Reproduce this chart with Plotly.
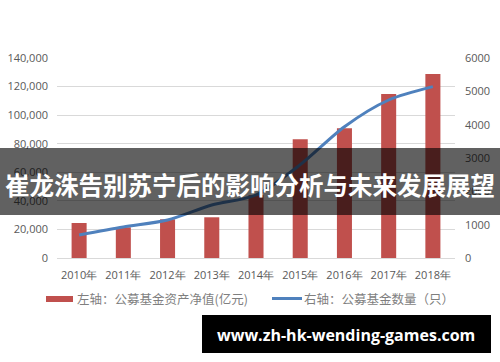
import plotly.graph_objects as go

years = ["2010年", "2011年", "2012年", "2013年", "2014年", "2015年", "2016年", "2017年", "2018年"]
net_assets = [24500, 21500, 27100, 28500, 44000, 83100, 90800, 114800, 128800]
fund_count = [690, 930, 1140, 1590, 1890, 2800, 3940, 4740, 5140]
left_ticks = [0, 20000, 40000, 60000, 80000, 100000, 120000, 140000]
right_ticks = [0, 1000, 2000, 3000, 4000, 5000, 6000]

legend_left = "左轴：公募基金资产净值(亿元)"
legend_right = "右轴：公募基金数量（只）"
banner_text = "崔龙洙告别苏宁后的影响分析与未来发展展望"
site_text = "www.zh-hk-wending-games.com"

RED = "#C0504D"
BLUE = "#4F81BD"
GRAY = "#595959"

fig = go.Figure()
fig.add_trace(go.Bar(x=years, y=net_assets, marker=dict(color=RED, line=dict(width=0)),
                     yaxis="y", showlegend=False))
fig.add_trace(go.Scatter(x=years, y=fund_count, mode="lines", yaxis="y2",
                         line=dict(color=BLUE, width=3, shape="spline", smoothing=0.8),
                         showlegend=False))

W, H = 500, 362
L, R, T, B = 57, 45, 58, 104
pw, ph = W - L - R, H - T - B

def px(x):
    return (x - L) / pw

def py(y):
    return (H - B - y) / ph

fig.update_layout(
    width=W, height=H,
    margin=dict(l=L, r=R, t=T, b=B),
    paper_bgcolor="white", plot_bgcolor="white",
    bargap=0.66,
    font=dict(family="Open Sans, sans-serif", size=11, color=GRAY),
    xaxis=dict(showgrid=False, showline=True, linecolor="#d9d9d9", linewidth=1, automargin=False,
               ticks="", tickfont=dict(size=11, color=GRAY), ticklen=0, ticklabelstandoff=7),
    yaxis=dict(range=[0, 140000], tickvals=left_ticks, tickformat=",", automargin=False,
               showgrid=True, gridcolor="#d9d9d9", gridwidth=1, zeroline=False,
               showline=False, ticks="", tickfont=dict(size=11, color=GRAY), ticklabelstandoff=8),
    yaxis2=dict(range=[0, 6000], tickvals=right_ticks, overlaying="y", side="right", automargin=False,
                showgrid=False, zeroline=False, showline=False, ticks="",
                tickfont=dict(size=11, color=GRAY), tickformat="d", ticklabelstandoff=9),
)

shapes = [
    # legend symbols
    dict(type="rect", xref="paper", yref="paper", x0=px(46), x1=px(73), y0=py(302), y1=py(296),
         fillcolor=RED, line=dict(width=0)),
    dict(type="line", xref="paper", yref="paper", x0=px(272), x1=px(302), y0=py(298.5), y1=py(298.5),
         line=dict(color=BLUE, width=3)),
    # banner overlay
    dict(type="rect", xref="paper", yref="paper", x0=px(0), x1=px(500), y0=py(215), y1=py(148),
         fillcolor="rgba(0,0,0,0.62)", line=dict(width=0), layer="above"),
    # site box
    dict(type="rect", xref="paper", yref="paper", x0=px(202), x1=px(491), y0=py(353), y1=py(315),
         fillcolor="black", line=dict(width=0), layer="above"),
]
fig.update_layout(shapes=shapes)

ann = [
    dict(text=legend_left, x=px(75), y=py(298.5), xanchor="left", yanchor="middle",
         font=dict(family="Noto Sans CJK SC", size=12.5, color="#7f7f7f")),
    dict(text=legend_right, x=px(302), y=py(298.5), xanchor="left", yanchor="middle",
         font=dict(family="Noto Sans CJK SC", size=12.5, color="#7f7f7f")),
    dict(text="<b>" + banner_text + "</b>", x=px(250), y=py(184), xanchor="center", yanchor="middle",
         font=dict(family="Noto Sans CJK SC", size=24.5, color="white")),
    dict(text="<b>" + site_text + "</b>", x=px(346), y=py(335), xanchor="center", yanchor="middle",
         font=dict(family="Open Sans", size=16, color="white")),
]
for a in ann:
    a.update(xref="paper", yref="paper", showarrow=False)
fig.update_layout(annotations=ann)

fig.write_html("out.html")
